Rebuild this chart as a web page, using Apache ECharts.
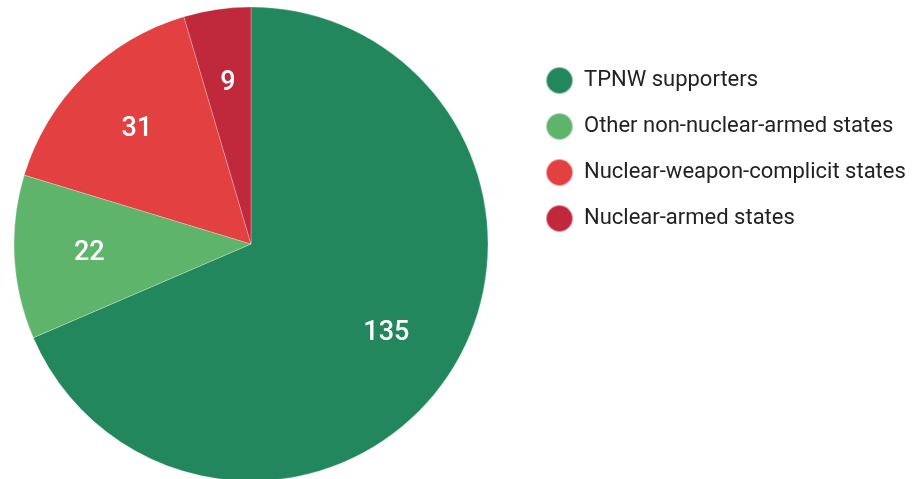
<!DOCTYPE html>
<html>
<head>
<meta charset="utf-8">
<script src="https://cdn.jsdelivr.net/npm/echarts@6/dist/echarts.min.js"></script>
<style>
  html, body { margin: 0; padding: 0; background: #fff; }
  #chart { width: 914px; height: 479px; }
</style>
</head>
<body>
<div id="chart"></div>
<script>
const categories = ["TPNW supporters", "Other non-nuclear-armed states", "Nuclear-weapon-complicit states", "Nuclear-armed states"];
const values = [135, 22, 31, 9];
const colors = ["#23875d", "#5fb46b", "#e34042", "#c0293c"];

const pieData = categories.map((name, i) => ({ name: name, value: values[i], itemStyle: { color: colors[i] } }));

const chart = echarts.init(document.getElementById("chart"));
chart.setOption({
  animation: false,
  textStyle: { fontFamily: "Roboto" },
  legend: {
    orient: "vertical",
    left: 545,
    top: 66,
    padding: 0,
    icon: "circle",
    itemWidth: 27,
    itemHeight: 27,
    itemGap: 17,
    textStyle: { fontSize: 22, lineHeight: 27, color: "#222", fontFamily: "Roboto", padding: [0, 0, 0, 6] },
    data: categories
  },
  series: [
    {
      type: "pie",
      center: [251, 244],
      radius: 237,
      startAngle: 90,
      clockwise: true,
      label: { show: false },
      labelLine: { show: false },
      itemStyle: { borderColor: "rgba(255,255,255,0.5)", borderWidth: 0.5 },
      emphasis: { disabled: true },
      data: pieData
    },
    {
      // transparent ring just to place the value labels further out
      type: "pie",
      center: [251, 244],
      radius: [146, 172],
      startAngle: 90,
      clockwise: true,
      silent: true,
      legendHoverLink: false,
      itemStyle: { color: "transparent" },
      label: {
        show: true,
        position: "inside",
        formatter: "{c}",
        color: "#fff",
        fontSize: 27,
        fontWeight: 500,
        fontFamily: "Roboto"
      },
      labelLine: { show: false },
      emphasis: { disabled: true },
      data: categories.map((name, i) => ({ name: name, value: values[i] }))
    }
  ]
});
</script>
</body>
</html>
